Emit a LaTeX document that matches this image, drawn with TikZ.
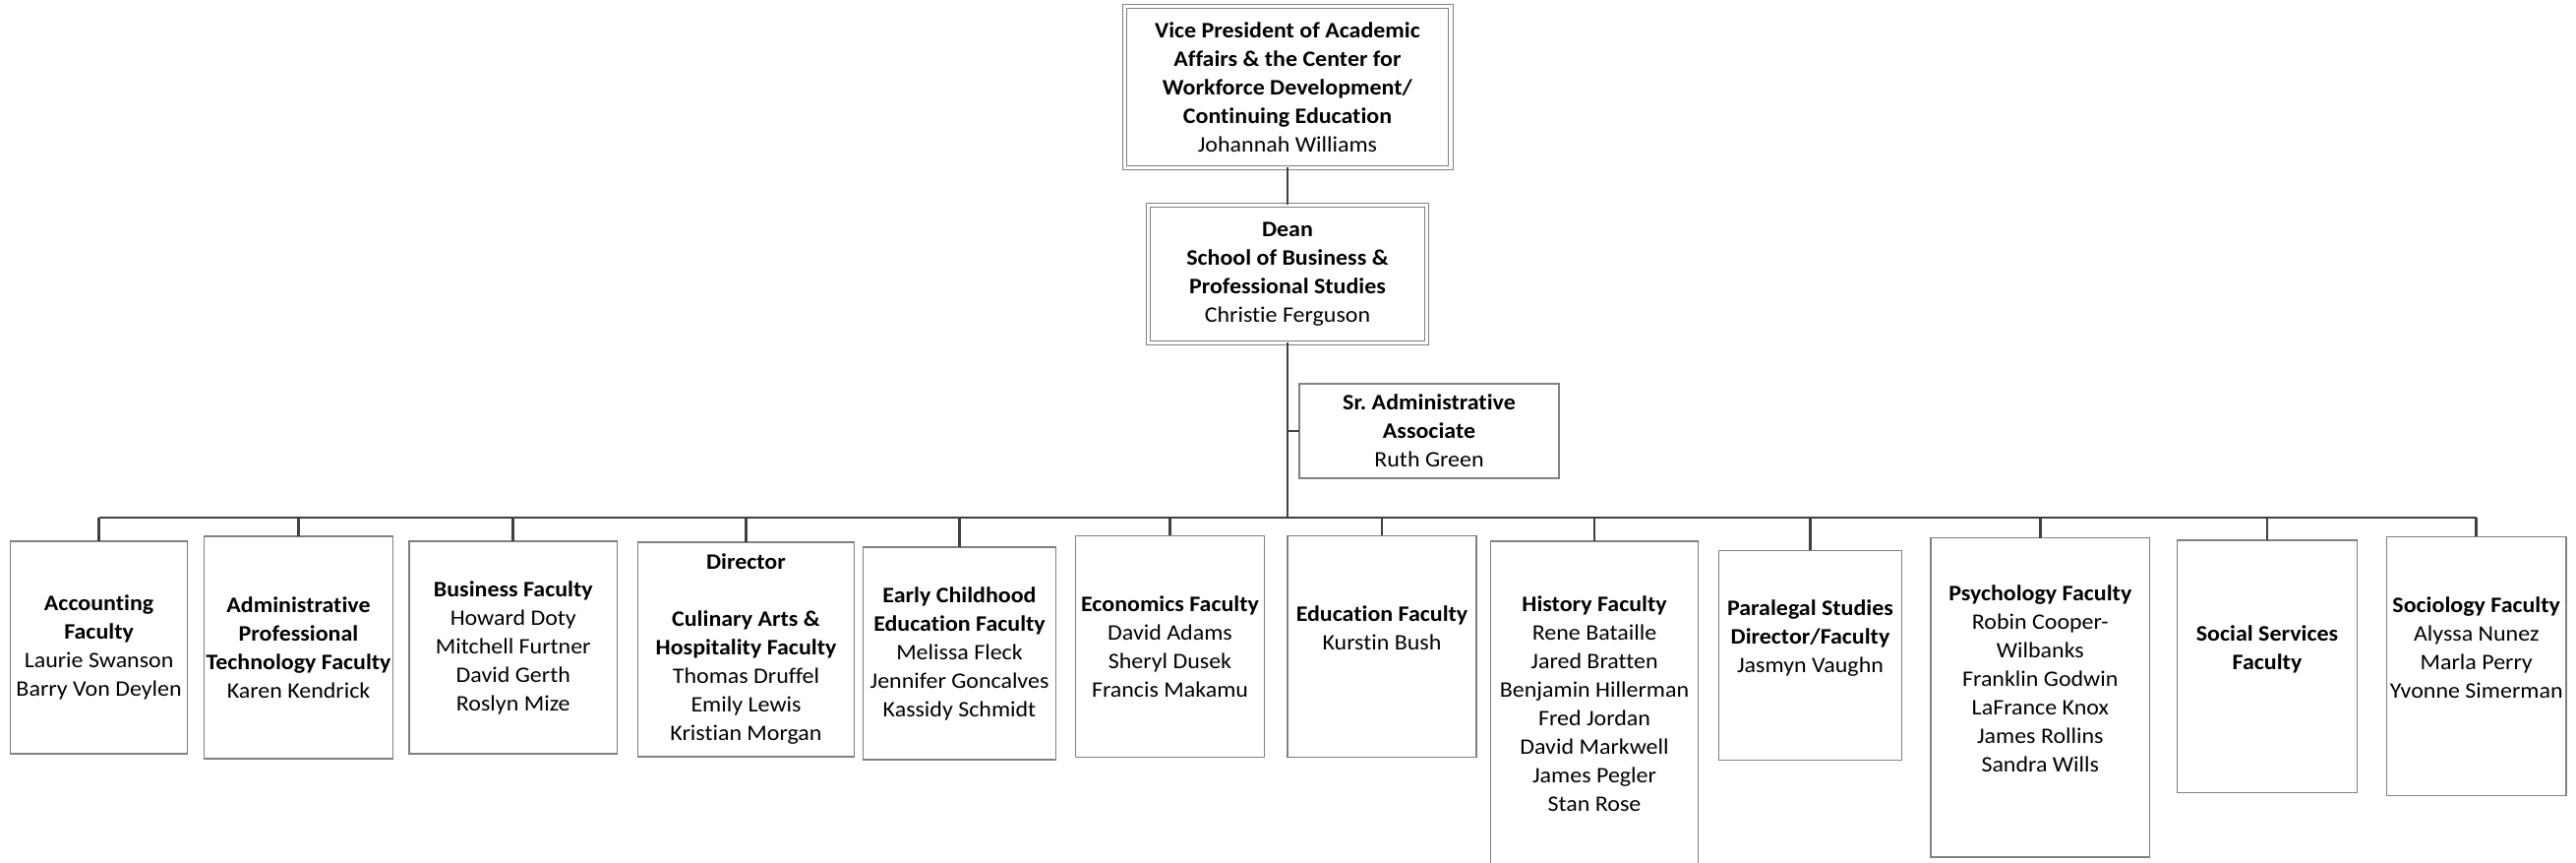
\documentclass[tikz,border=0pt]{standalone}
\usepackage{fontspec}
\setmainfont{Carlito}[Ligatures=NoCommon, FakeStretch=1.065]
\definecolor{boxgray}{RGB}{128,128,128}
\definecolor{conngray}{RGB}{64,64,64}
\frenchspacing
\begin{document}
\begin{tikzpicture}[x=1pt,y=-1pt,
  box/.style={draw=boxgray, line width=1.2pt, inner sep=0pt, outer sep=0pt, align=center,
    font=\fontsize{22.5}{29}\selectfont, fill=white},
  dbox/.style={box, double=white, double distance=3.5pt, line width=1pt},
  conn/.style={draw=conngray, line width=2.8pt}]
\useasboundingbox (0,0) rectangle (2619,877);
\clip (0,0) rectangle (2619,877);
\fill[white] (0,0) rectangle (2619,877);

\node[dbox, minimum width=331.5pt, minimum height=164pt] (vp) at (1309,88.5)
  {\textbf{Vice President of Academic}\\\textbf{Affairs \& the Center for}\\\textbf{Workforce Development/}\\\textbf{Continuing Education}\\Johannah Williams};
\node[dbox, minimum width=283pt, minimum height=140pt] (dean) at (1309,278.5)
  {\textbf{Dean}\\\textbf{School of Business \&}\\\textbf{Professional Studies}\\Christie Ferguson};
\node[box, minimum width=264pt, minimum height=96pt] (sr) at (1453,438)
  {\textbf{Sr. Administrative}\\\textbf{Associate}\\Ruth Green};

\coordinate (bar) at (1309,526);

\node[box, minimum width=180pt, minimum height=216pt] (acc) at (100.6,658)
  {\textbf{Accounting}\\\textbf{Faculty}\\Laurie Swanson\\Barry Von Deylen};
\node[box, minimum width=192pt, minimum height=226pt] (adm) at (303.5,658)
  {\textbf{Administrative}\\\textbf{Professional}\\\textbf{Technology Faculty}\\Karen Kendrick};
\node[box, minimum width=211.5pt, minimum height=216pt] (bus) at (521.8,658)
  {\textbf{Business Faculty}\\Howard Doty\\Mitchell Furtner\\David Gerth\\Roslyn Mize};
\node[box, minimum width=220pt, minimum height=218pt] (cul) at (758.5,660)
  {\textbf{Director}\\\strut\\\textbf{Culinary Arts \&}\\\textbf{Hospitality Faculty}\\Thomas Druffel\\Emily Lewis\\Kristian Morgan};
\node[box, minimum width=196pt, minimum height=216pt] (ece) at (975.5,664)
  {\textbf{Early Childhood}\\\textbf{Education Faculty}\\Melissa Fleck\\Jennifer Goncalves\\Kassidy Schmidt};
\node[box, minimum width=192pt, minimum height=225pt] (eco) at (1189.5,656.8)
  {\textbf{Economics Faculty}\\David Adams\\Sheryl Dusek\\Francis Makamu};
\node[box, minimum width=192pt, minimum height=225pt] (edu) at (1405,656.7)
  {\textbf{Education Faculty}\\Kurstin Bush\\\strut};
\node[box, minimum width=211pt, minimum height=330pt] (his) at (1621,715)
  {\textbf{History Faculty}\\Rene Bataille\\Jared Bratten\\Benjamin Hillerman\\Fred Jordan\\David Markwell\\James Pegler\\Stan Rose};
\node[box, minimum width=186pt, minimum height=213pt] (par) at (1840.5,665.8)
  {\textbf{Paralegal Studies}\\\textbf{Director/Faculty}\\Jasmyn Vaughn\\\strut};
\node[box, minimum width=222.6pt, minimum height=324.3pt] (psy) at (2074.3,708.8)
  {\textbf{Psychology Faculty}\\Robin Cooper-\\Wilbanks\\Franklin Godwin\\LaFrance Knox\\James Rollins\\Sandra Wills\\\strut};
\node[box, minimum width=183pt, minimum height=256.7pt] (ss) at (2305,677.3)
  {\textbf{Social Services}\\\textbf{Faculty}\\\strut};
\node[box, minimum width=182.6pt, minimum height=263.7pt] (sol) at (2517.7,677)
  {\textbf{Sociology Faculty}\\Alyssa Nunez\\Marla Perry\\Yvonne Simerman\\\strut};

% connectors
\draw[conn] (vp.south) -- (dean.north);
\draw[conn] (dean.south) -- (bar);
\draw[conn] (sr.west) -- (sr.west -| dean.south);
\draw[conn] (acc.north |- bar) -- (sol.north |- bar);
\foreach \n in {acc,adm,bus,cul,ece,eco,edu,his,par,psy,ss,sol}
  \draw[conn] (\n.north) -- (\n.north |- bar);
\end{tikzpicture}
\end{document}
